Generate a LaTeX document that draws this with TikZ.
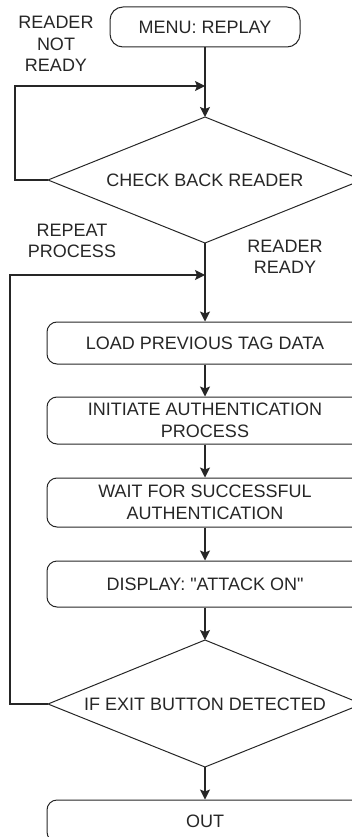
\documentclass[tikz,border=0pt]{standalone}
\usepackage{fontspec}
\setmainfont{Liberation Sans}[Ligatures=TeXOff]
\usetikzlibrary{arrows.meta}
\begin{document}
\begin{tikzpicture}[x=1pt,y=-1pt,
  every node/.style={font=\fontsize{18}{21.5}\selectfont, text=black!85},
  proc/.style={draw=black!85, rounded corners=10pt, minimum width=316pt, line width=1pt, inner sep=0pt, align=center},
  decline/.style={draw=black!85, line width=1pt, line join=miter},
  lbl/.style={align=center, inner sep=0pt},
  conn/.style={draw=black!85, line width=1.2pt, -{Stealth[length=10pt,width=10pt,inset=2pt]}}]
\useasboundingbox (0,0) rectangle (352,837);
\clip (0,0) rectangle (352,837);
\node[proc, minimum width=190pt, minimum height=40pt, rounded corners=13pt] (menu) at (205,27) {MENU: REPLAY};
% decision: check back reader
\node[lbl] (check) at (205,180) {CHECK BACK READER};
\coordinate (checkN) at (205,117);
\coordinate (checkS) at (205,243);
\coordinate (checkW) at (48,180);
\coordinate (checkE) at (362,180);
\draw[decline] (checkN) -- (checkE) -- (checkS) -- (checkW) -- cycle;
\node[proc, minimum height=42pt] (load) at (205,343) {LOAD PREVIOUS TAG DATA};
\node[proc, minimum height=47pt] (init) at (205,420.5) {INITIATE AUTHENTICATION\\PROCESS};
\node[proc, minimum height=49pt] (wait) at (205,502.5) {WAIT FOR SUCCESSFUL\\AUTHENTICATION};
\node[proc, minimum height=46pt] (disp) at (205,584) {DISPLAY: "ATTACK ON"};
% decision: exit
\node[lbl] (exit) at (205,704) {IF EXIT BUTTON DETECTED};
\coordinate (exitN) at (205,640);
\coordinate (exitS) at (205,767);
\coordinate (exitW) at (48,704);
\coordinate (exitE) at (362,704);
\draw[decline] (exitN) -- (exitE) -- (exitS) -- (exitW) -- cycle;
\node[proc, minimum height=42pt] (out) at (205,821) {OUT};
\node[lbl] (lnr) at (56,44) {READER\\NOT\\READY};
\node[lbl] (lrp) at (72,241) {REPEAT\\PROCESS};
\node[lbl] (lrr) at (285,257) {READER\\READY};
\coordinate (j1) at (205,86);
\coordinate (c1) at (15,86);
\coordinate (j2) at (205,275);
\coordinate (c2) at (10,275);
\draw[conn] (menu.south) -- (checkN);
\draw[conn] (checkW) -| (c1) -- (j1);
\draw[conn] (checkS) -- (load.north);
\draw[conn] (exitW) -| (c2) -- (j2);
\draw[conn] (load) -- (init);
\draw[conn] (init) -- (wait);
\draw[conn] (wait) -- (disp);
\draw[conn] (disp.south) -- (exitN);
\draw[conn] (exitS) -- (out.north);
\end{tikzpicture}
\end{document}
